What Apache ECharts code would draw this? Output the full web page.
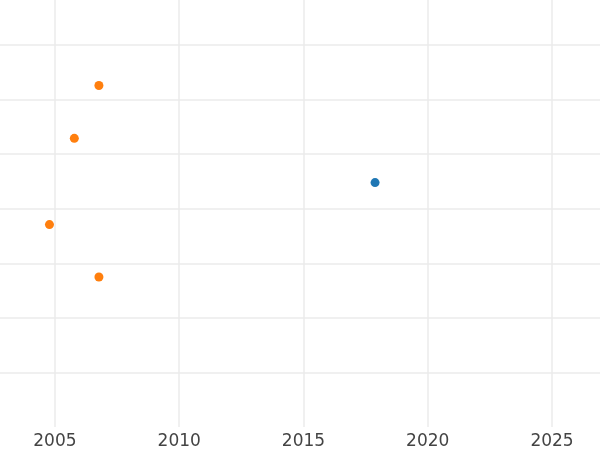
<!DOCTYPE html>
<html>
<head>
<meta charset="utf-8">
<script src="https://cdn.jsdelivr.net/npm/echarts@6/dist/echarts.min.js"></script>
<style>
html,body{margin:0;padding:0;background:#fff;}
#chart{width:600px;height:450px;}
</style>
</head>
<body>
<div id="chart"></div>
<script>
// Data
const orangeYears = [2006.77, 2005.78, 2004.78, 2006.77];
const orangeValues = [6.26, 5.29, 3.71, 2.75];
const blueYears = [2017.88];
const blueValues = [4.48];
const xTicks = [2005, 2010, 2015, 2020, 2025];
const yTicks = [1, 2, 3, 4, 5, 6, 7];

function pairs(xs, ys) { return xs.map((x, i) => [x, ys[i]]); }

const chart = echarts.init(document.getElementById('chart'), null, {renderer: 'canvas'});
chart.setOption({
  animation: false,
  backgroundColor: '#ffffff',
  grid: {left: 0, right: 0, top: 0, bottom: 22.7, containLabel: false},
  xAxis: {
    type: 'value', min: 2002.79, max: 2026.93,
    axisLine: {show: false},
    axisTick: {show: false, customValues: xTicks},
    axisLabel: {
      color: '#444444', fontFamily: 'DejaVu Sans', fontSize: 17, margin: 6,
      customValues: xTicks, formatter: v => String(v)
    },
    splitLine: {show: true, lineStyle: {color: '#ebebeb', width: 1.5}}
  },
  yAxis: {
    type: 'value', min: 0, max: 7.826,
    axisLine: {show: false},
    axisTick: {show: false, customValues: yTicks},
    axisLabel: {show: false, customValues: yTicks},
    splitLine: {show: true, lineStyle: {color: '#ebebeb', width: 1.5}}
  },
  series: [
    {type: 'scatter', data: pairs(orangeYears, orangeValues), symbolSize: 9,
     itemStyle: {color: '#ff7f0e', opacity: 1}},
    {type: 'scatter', data: pairs(blueYears, blueValues), symbolSize: 9,
     itemStyle: {color: '#1f77b4', opacity: 1}}
  ]
});
</script>
</body>
</html>
